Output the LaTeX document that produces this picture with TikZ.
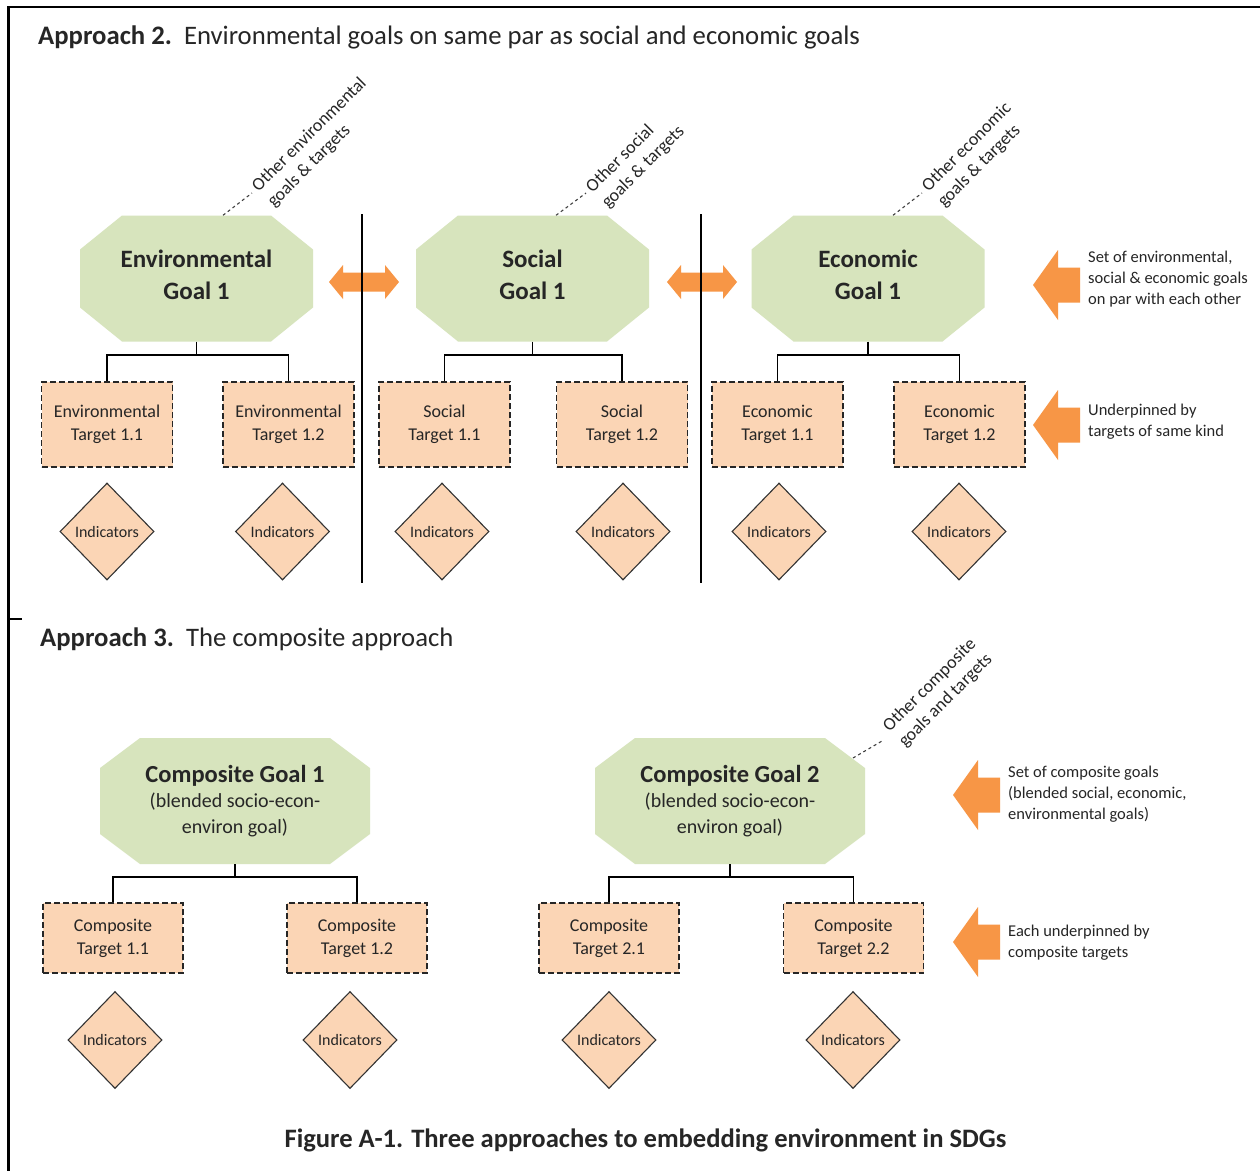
\documentclass[tikz,border=0pt]{standalone}
\usepackage{fontspec}
\setmainfont{Carlito}
\usetikzlibrary{shapes.geometric,calc}
\definecolor{goalgreen}{HTML}{D7E4BD}
\definecolor{peach}{HTML}{FBD5B5}
\definecolor{arrorange}{HTML}{F79646}
\definecolor{txt}{HTML}{262626}
\begin{document}
\begin{tikzpicture}[x=1pt,y=-1pt,
 octfill/.style 2 args={path picture={\fill[goalgreen]
   ([xshift=#1]path picture bounding box.north west) --
   ([xshift=-#1]path picture bounding box.north east) --
   ([yshift=-#2]path picture bounding box.north east) --
   ([yshift=#2]path picture bounding box.south east) --
   ([xshift=-#1]path picture bounding box.south east) --
   ([xshift=#1]path picture bounding box.south west) --
   ([yshift=#2]path picture bounding box.south west) --
   ([yshift=-#2]path picture bounding box.north west) -- cycle;}},
 goal/.style={rectangle, octfill={42pt}{34pt}, minimum width=233pt, minimum height=126pt, inner sep=0pt, align=center, font=\fontsize{25}{32}\selectfont\bfseries, text=txt, text depth=8pt},
 cgoal/.style={rectangle, octfill={40pt}{30pt}, minimum width=270pt, minimum height=126pt, inner sep=0pt, align=center, font=\fontsize{20}{25.5}\selectfont, text=txt},
 target/.style={rectangle, draw=black!85, dash pattern=on 6pt off 3pt, line width=1.1pt, fill=peach, minimum width=131pt, minimum height=85pt, align=center, font=\fontsize{18}{23}\selectfont, text=txt},
 ctarget/.style={target, minimum width=140pt, minimum height=70pt},
 ind/.style={diamond, draw=black!80, line width=1.1pt, fill=peach, minimum width=94pt, minimum height=97pt, inner sep=0pt, font=\fontsize{16}{19}\selectfont, text=txt},
 conn/.style={draw=black, line width=1.5pt},
 leader/.style={draw=black!75, line width=1.1pt, dash pattern=on 3pt off 3pt},
 other/.style={rotate=45, anchor=west, align=left, font=\fontsize{18}{22}\selectfont, text=txt, inner sep=0pt},
 note/.style={anchor=west, align=left, font=\fontsize{16.5}{21}\selectfont, text=txt, inner sep=0pt},
 titletext/.style={anchor=base west, font=\fontsize{26.7}{30}\selectfont, text=txt, inner sep=0pt},
 dblarrow/.pic={\fill[arrorange] (0,0) -- (14,-17) -- (14,-9.5) -- (56,-9.5) -- (56,-17) -- (70,0) -- (56,17) -- (56,9.5) -- (14,9.5) -- (14,17) -- cycle;},
 bigarrow/.pic={\fill[arrorange] (0,0) -- (25,-35) -- (25,-17.5) -- (47,-17.5) -- (47,17.5) -- (25,17.5) -- (25,35) -- cycle;}
]
\useasboundingbox (0,0) rectangle (1260,1171);
\fill[white] (0,0) rectangle (1260,1171);
% frame
\draw[line width=2pt] (7,7) -- (1260,7);
\draw[line width=3pt] (8,7) -- (8,1171);
\draw[line width=2pt] (8,619) -- (22,619);

% ---------- Approach 2 ----------
\node[titletext] (t2) at (38,44) {\textbf{Approach 2.}\ \ Environmental goals on same par as social and economic goals};

\node[goal] (envg) at (196.5,278.5) {Environmental\\Goal 1};
\node[goal] (socg) at (532.5,278.5) {Social\\Goal 1};
\node[goal] (ecog) at (868,278.5) {Economic\\Goal 1};

\node[target] (et11) at (107,424.5) {Environmental\\Target 1.1};
\node[target] (et12) at (288.5,424.5) {Environmental\\Target 1.2};
\node[target] (st11) at (444.5,424.5) {Social\\Target 1.1};
\node[target] (st12) at (622,424.5) {Social\\Target 1.2};
\node[target] (ct11) at (777.5,424.5) {Economic\\Target 1.1};
\node[target] (ct12) at (959.5,424.5) {Economic\\Target 1.2};

\node[ind] (i1) at (107,531.5) {Indicators};
\node[ind] (i2) at (282.5,531.5) {Indicators};
\node[ind] (i3) at (442,531.5) {Indicators};
\node[ind] (i4) at (623,531.5) {Indicators};
\node[ind] (i5) at (779,531.5) {Indicators};
\node[ind] (i6) at (959,531.5) {Indicators};

% tree connectors
\draw[conn] (envg.south) -- (envg.south |- 0,355) coordinate (ej);
\draw[conn] (et11.north) |- (ej) -| (et12.north);
\draw[conn] (socg.south) -- (socg.south |- 0,355) coordinate (sj);
\draw[conn] (st11.north) |- (sj) -| (st12.north);
\draw[conn] (ecog.south) -- (ecog.south |- 0,355) coordinate (cj);
\draw[conn] (ct11.north) |- (cj) -| (ct12.north);

% double arrows and separators
\pic at (329,282) {dblarrow};
\pic at (667,282) {dblarrow};
\draw[conn] (362,214) -- (362,583);
\draw[conn] (701,214) -- (701,583);

% other goals leaders
\draw[leader] ($(envg.north)+(26.5,0)$) -- (252,193);
\node[other] (envo) at (263,197) {Other environmental\\goals \& targets};
\draw[leader] ($(socg.north)+(23.5,0)$) -- (586,193);
\node[other] (soco) at (597,198) {Other social\\goals \& targets};
\draw[leader] ($(ecog.north)+(25,0)$) -- (922,193);
\node[other] (ecoo) at (933,197) {Other economic\\goals \& targets};

% right notes
\pic at (1033,285) {bigarrow};
\node[note] (n1) at (1088,279) {Set of environmental,\\social \& economic goals\\on par with each other};
\pic at (1033,425) {bigarrow};
\node[note] (n2) at (1088,421.5) {Underpinned by\\targets of same kind};

% ---------- Approach 3 ----------
\node[titletext] (t3) at (40,646) {\textbf{Approach 3.}\ \ The composite approach};

\node[cgoal] (cg1) at (235,801) {{\fontsize{24.5}{26}\selectfont\bfseries Composite Goal 1}\\(blended socio-econ-\\environ goal)};
\node[cgoal] (cg2) at (730,801) {{\fontsize{24.5}{26}\selectfont\bfseries Composite Goal 2}\\(blended socio-econ-\\environ goal)};

\node[ctarget] (c11) at (113,938) {Composite\\Target 1.1};
\node[ctarget] (c12) at (357,938) {Composite\\Target 1.2};
\node[ctarget] (c21) at (609,938) {Composite\\Target 2.1};
\node[ctarget] (c22) at (853.5,938) {Composite\\Target 2.2};

\draw[conn] (cg1.south) -- (cg1.south |- 0,877) coordinate (g1j);
\draw[conn] (c11.north) |- (g1j) -| (c12.north);
\draw[conn] (cg2.south) -- (cg2.south |- 0,877) coordinate (g2j);
\draw[conn] (c21.north) |- (g2j) -| (c22.north);

\node[ind] (ci1) at (115,1040) {Indicators};
\node[ind] (ci2) at (350,1040) {Indicators};
\node[ind] (ci3) at (609,1040) {Indicators};
\node[ind] (ci4) at (853,1040) {Indicators};

\draw[leader] (853,758) -- (882,741);
\node[other] (cgo) at (894,737) {Other composite\\goals and targets};

\pic at (953,795) {bigarrow};
\node[note] (n3) at (1008,794) {Set of composite goals\\(blended social, economic,\\environmental goals)};
\pic at (953,942) {bigarrow};
\node[note] (n4) at (1008,942.5) {Each underpinned by\\composite targets};

\node[font=\fontsize{26.6}{30}\selectfont\bfseries, text=txt] (cap) at (645.5,1140) {Figure A-1. Three approaches to embedding environment in SDGs};
\end{tikzpicture}
\end{document}
